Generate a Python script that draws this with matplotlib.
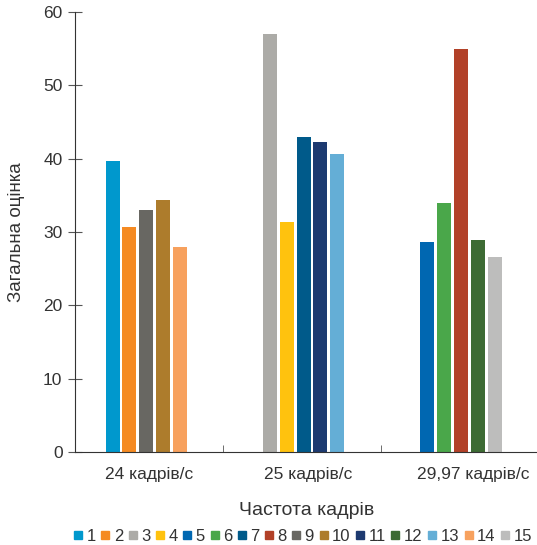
import matplotlib
matplotlib.use("Agg")
import matplotlib.pyplot as plt
from matplotlib.lines import Line2D

plt.rcParams['font.family'] = ['Liberation Sans', 'DejaVu Sans']

# groups on the x axis
groups = ['24 кадрів/с', '25 кадрів/с', '29,97 кадрів/с']

# which series sit in each group, and their scores
group_series = [[1, 2, 9, 10, 14], [3, 4, 7, 11, 13], [5, 6, 8, 12, 15]]
group_values = [[39.7, 30.7, 33.0, 34.4, 28.0],
                [57.0, 31.4, 43.0, 42.3, 40.7],
                [28.7, 34.0, 55.0, 28.9, 26.6]]

series_labels = [str(i) for i in range(1, 16)]
series_colors = ['#0098CD', '#F58A22', '#ACABA7', '#FFC20E', '#0067B1',
                 '#4AA74A', '#005A8A', '#B24128', '#686762', '#AD7C2C',
                 '#1D3A70', '#3D6B34', '#64AED6', '#F7A15E', '#BDBDBC']

fig = plt.figure(figsize=(5.37, 5.45), dpi=100)
ax = fig.add_axes([75/537, 1 - 452/545, 1 - 75/537 + 0.002, 440/545])

width = 0.089
pitch = 0.107
for g, (ser, vals) in enumerate(zip(group_series, group_values)):
    for k, (s, v) in enumerate(zip(ser, vals)):
        ax.bar(g + 0.01 + (k - 2) * pitch, v, width=width,
               color=series_colors[s - 1])

ax.set_xlim(-0.443, 2.5)
ax.set_ylim(0, 60)
ax.set_yticks(range(0, 61, 10))
ax.set_xticks([0.03, 1.04, 2.09])
ax.set_xticklabels(groups, fontsize=12.5, color='#333333')
ax.set_xticks([0.5, 1.5], minor=True)
ax.tick_params(axis='x', which='major', length=0, pad=11)
ax.tick_params(axis='x', which='minor', direction='in', length=5, color='#555555')
ax.tick_params(axis='y', direction='inout', length=10, color='#555555',
               labelsize=12.5, labelcolor='#333333', pad=4)

for side in ['top', 'right']:
    ax.spines[side].set_visible(False)
ax.spines['left'].set_color('#333333')
ax.spines['bottom'].set_color('#333333')

ax.set_ylabel('Загальна оцінка', fontsize=13.5, color='#333333', labelpad=13)
ax.set_xlabel('Частота кадрів', fontsize=14, color='#333333', labelpad=14)

# legend squares, one per series
handles = [Line2D([], [], marker='s', linestyle='none', markersize=6,
                  color=c) for c in series_colors]
fig.legend(handles, series_labels, ncol=15, loc='lower left',
           bbox_to_anchor=(74/537, 0.002), frameon=False, fontsize=12,
           borderpad=0, borderaxespad=0,
           handlelength=0.5, handletextpad=0.25, columnspacing=0.33,
           labelcolor='#333333')

fig.savefig('out.png', dpi=100)
